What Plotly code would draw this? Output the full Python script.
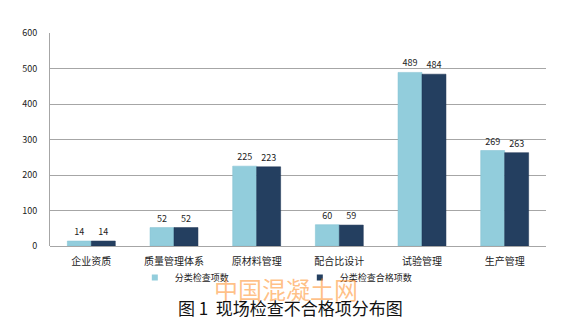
import plotly.graph_objects as go

categories = ["企业资质", "质量管理体系", "原材料管理", "配合比设计", "试验管理", "生产管理"]
checked_items = [14, 52, 225, 60, 489, 269]
passed_items = [14, 52, 223, 59, 484, 263]
series_names = ["分类检查项数", "分类检查合格项数"]
y_ticks = [0, 100, 200, 300, 400, 500, 600]
colors = ["#92CDDC", "#243F60"]
edges = ["#7FBFD0", "#1A3050"]

FONT = "Noto Sans CJK SC"

fig = go.Figure()
for name, vals, col, edge in zip(series_names, [checked_items, passed_items], colors, edges):
    fig.add_trace(go.Bar(
        x=categories, y=vals, name=name, showlegend=False,
        marker=dict(color=col, line=dict(color=edge, width=0.5)),
        text=vals, textposition="outside",
        textfont=dict(size=9, color="#222222", family=FONT),
        cliponaxis=False,
    ))
    # small square legend keys
    fig.add_trace(go.Scatter(
        x=[None], y=[None], mode="markers", name=name,
        marker=dict(symbol="square", size=6, color=col),
    ))

fig.update_layout(
    width=575, height=333,
    margin=dict(l=50, r=29, t=33, b=87),
    paper_bgcolor="white", plot_bgcolor="white",
    barmode="group", bargap=0.42, bargroupgap=0,
    font=dict(family=FONT, size=9, color="#222222"),
    showlegend=True,
    legend=dict(
        orientation="h", x=0.171, xanchor="left", y=-0.08, yanchor="top",
        font=dict(size=9, family=FONT), itemwidth=30,
        entrywidth=120, entrywidthmode="pixels",
        bgcolor="rgba(0,0,0,0)",
    ),
    xaxis=dict(
        showgrid=False, showline=False, ticks="", ticklabelstandoff=8,
        tickfont=dict(size=10, family=FONT),
    ),
    yaxis=dict(
        range=[0, 600], tickvals=y_ticks,
        showgrid=True, gridcolor="#A6A6A6", gridwidth=1,
        showline=True, linecolor="#A6A6A6", linewidth=1,
        zeroline=True, zerolinecolor="#A6A6A6", zerolinewidth=1,
        ticks="", ticklabelstandoff=10,
        tickfont=dict(size=9, family=FONT),
    ),
    annotations=[
        dict(text="中国混凝土网", xref="paper", yref="paper", x=0.475, y=-0.2,
             xanchor="center", yanchor="middle", showarrow=False,
             font=dict(size=24, color="rgba(255,140,30,0.55)", family=FONT)),
        dict(text="图 1  现场检查不合格项分布图", xref="paper", yref="paper", x=0.485, y=-0.291,
             xanchor="center", yanchor="middle", showarrow=False,
             font=dict(size=17, color="#111111", family=FONT)),
    ],
)

fig.write_html("out.html")
